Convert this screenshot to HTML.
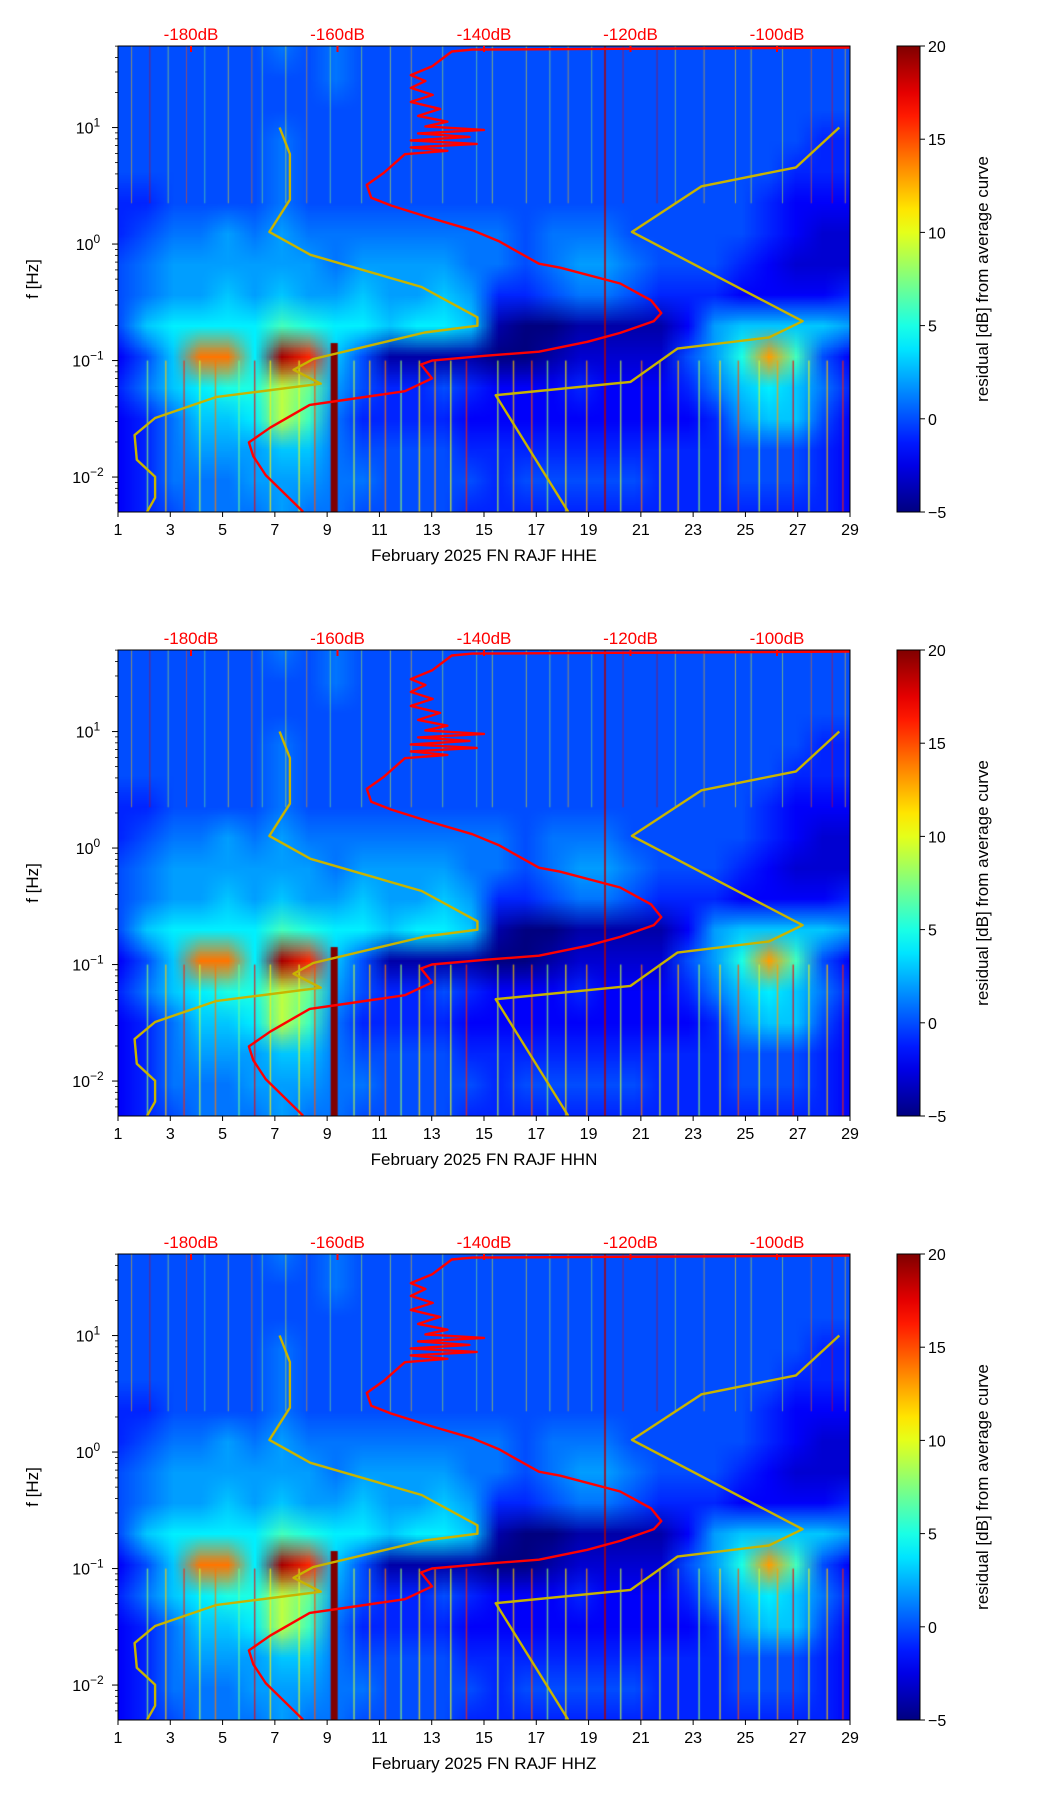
<!DOCTYPE html>
<html><head><meta charset="utf-8">
<style>
html,body{margin:0;padding:0;background:#fff;}
body{width:1052px;height:1806px;position:relative;overflow:hidden;font-family:"Liberation Sans","DejaVu Sans",sans-serif;}
canvas{position:absolute;}
svg{position:absolute;left:0;top:0;}
</style></head>
<body>
<div id="root"></div>
<script>
// ---- data ----
const dayTicks=[1,3,5,7,9,11,13,15,17,19,21,23,25,27,29];
const dbTicks=[-180,-160,-140,-120,-100];
const cbTicks=[20,15,10,5,0,-5];
const channels=["HHE","HHN","HHZ"];
const rowLogF=[1.57,1.32,1.07,0.82,0.57,0.32,0.07,-0.18,-0.43,-0.68,-0.93,-1.18,-1.43,-1.68,-1.93,-2.18];
const heat=[
[0,0,0,0,0,0,1,0,1,0,0,0,0,0,0,0,0,0,0,0,0,0,0,0,0,0,0,0],
[0,0,0,0,0,0,0,0,1,0,0,0,0,0,0,0,0,0,0,0,0,0,0,0,0,0,0,0],
[0,0,0,0,0,0,0,0,0,0,0,0,0,0,0,0,0,0,0,0,0,0,0,0,0,0,0,0],
[0,0,0,0,0,0,1,0,0,0,0,0,0,0,0,0,0,0,0,0,0,0,0,0,0,0,-1,-1],
[0,0,0,0,0,0,1,0,0,0,0,0,0,0,0,0,0,0,0,0,0,0,0,0,0,-1,-1,-1],
[-1,-1,0,0,0,0,1,0,0,0,0,0,0,0,0,0,0,0,0,0,0,0,0,0,-1,-2,-2,-2],
[-1,0,1,1,2,1,2,1,1,1,1,1,1,1,1,0,1,1,1,0,0,0,0,0,-1,-2,-3,-3],
[0,1,2,2,2,2,2,2,1,2,2,2,2,1,1,0,1,2,2,1,0,0,0,-1,-2,-3,-3,-3],
[0,1,2,2,3,2,3,2,2,3,2,2,3,2,-1,-1,0,1,1,0,-1,-1,-1,-2,-2,-2,-2,-1],
[0,3,4,4,4,4,6,5,4,4,3,4,4,3,-4,-5,-5,-4,-4,-4,-4,-2,2,3,3,3,3,2],
[-2,0,3,14,14,4,19,16,3,0,-4,-4,-4,-4,-5,-5,-4,-3,-3,-3,-3,0,2,5,13,6,0,-2],
[-1,1,3,4,5,5,9,7,2,0,-1,-1,0,-1,-2,-2,-2,-1,-2,-2,-2,-1,1,3,4,3,1,-1],
[-2,-1,1,3,3,4,9,6,1,-1,-1,-1,-1,-2,-2,-2,-2,-2,-2,-2,-2,-2,-1,2,3,3,0,-2],
[-2,-1,1,2,2,2,3,3,1,0,0,0,0,-1,-1,-1,-1,-1,-1,-1,-1,-1,-1,0,0,0,-1,-2],
[-2,-1,1,1,1,2,2,2,1,1,0,0,0,0,-1,0,0,0,0,0,-1,-1,-1,0,0,0,-1,-2],
[-2,-1,0,1,1,1,2,1,1,0,0,0,0,-1,-1,-1,-1,-1,-1,-1,-1,-1,-1,-1,-1,-1,-1,-2]];
const topStripeDay=[1.5,2.2,2.9,3.6,4.3,5.2,6.1,6.5,7.4,8.2,9.1,10.3,11.4,12.2,13.4,14.7,15.3,16.6,17.5,18.2,19.1,20.3,21.6,22.3,23.4,24.6,25.2,26.4,27.5,28.3,28.8];
const topStripeVal=[12,18,9,15,7,11,14,8,10,13,8,9,10,12,9,8,10,11,9,12,8,17,18,9,12,11,10,9,14,17,12];
const lowStripeDay=[2.1,2.8,3.5,4.1,4.7,5.6,6.2,6.8,7.9,8.5,10.0,10.6,11.2,11.8,12.5,13.1,13.7,14.3,15.5,16.1,16.8,17.4,18.1,18.9,20.2,21.0,21.7,22.4,23.2,24.0,24.7,25.5,26.2,26.8,27.4,28.1,28.7];
const lowStripeVal=[8,12,16,9,14,7,17,11,10,15,9,12,14,8,11,13,10,16,9,12,15,8,11,13,9,14,10,12,8,11,15,9,13,17,10,12,16];
const redDb=[-164.7,-169.8,-171.5,-172.1,-169.2,-163.8,-159.1,-150.8,-147.1,-148.6,-147.1,-139.7,-132.5,-125.9,-121.4,-116.8,-115.8,-117.2,-121.4,-129.6,-132.5,-138.0,-141.6,-147.1,-152.7,-155.4,-156.0,-153.7,-150.8,-145,-150,-141,-150,-142,-149,-140,-148,-145,-149,-146,-150,-147,-150,-148,-150,-147.1,-144.4,-141.6,-90.0];
const redLogF=[-2.297,-1.983,-1.822,-1.703,-1.576,-1.381,-1.339,-1.263,-1.153,-1.034,-1.0,-0.958,-0.924,-0.839,-0.763,-0.661,-0.593,-0.483,-0.339,-0.203,-0.169,0.025,0.119,0.220,0.331,0.398,0.508,0.610,0.771,0.80,0.83,0.86,0.89,0.92,0.95,0.98,1.01,1.05,1.10,1.16,1.22,1.28,1.34,1.40,1.45,1.525,1.653,1.669,1.686];
const yelLDb=[-167.9,-166.5,-166.5,-169.3,-163.7,-148.5,-140.9,-140.9,-148.1,-163.3,-166.0,-162.3,-176.6,-184.9,-187.7,-187.4,-184.9,-184.9,-186.0];
const yelLLogF=[1.0,0.773,0.381,0.104,-0.092,-0.369,-0.629,-0.701,-0.759,-0.987,-1.079,-1.199,-1.314,-1.493,-1.640,-1.852,-1.998,-2.177,-2.298];
const yelRDb=[-91.5,-97.4,-110.3,-119.8,-96.5,-101.1,-113.6,-120.0,-138.4,-128.5];
const yelRLogF=[1.0,0.658,0.496,0.104,-0.662,-0.802,-0.897,-1.183,-1.297,-2.298];
const redVlineDay=19.6, darkLineDay=9.25;

const L=118,R=850,PH=466,tops=[46,650,1254];
const CBX=897,CBW=23;
function xDay(d){return L+(d-1)*(R-L)/28;}
function xDb(db){return 191+(db+180)*7.325;}
function yF(top,lf){return top+(1.7-lf)*PH/4;}
function jet(v){let t=Math.max(0,Math.min(1,(v+5)/25));
 const c=x=>Math.max(0,Math.min(1,x));
 return [c(1.5-Math.abs(4*t-3)),c(1.5-Math.abs(4*t-2)),c(1.5-Math.abs(4*t-1))].map(x=>Math.round(x*255));}
function rgb(v){const c=jet(v);return `rgb(${c[0]},${c[1]},${c[2]})`;}
const root=document.getElementById('root');
const NS="http://www.w3.org/2000/svg";
const svg=document.createElementNS(NS,'svg');
svg.setAttribute('width',1052);svg.setAttribute('height',1806);
function el(tag,attrs,parent){const e=document.createElementNS(NS,tag);for(const k in attrs)e.setAttribute(k,attrs[k]);(parent||svg).appendChild(e);return e;}
function txt(s,attrs,parent){const e=el('text',attrs,parent);e.textContent=s;return e;}

tops.forEach((top,pi)=>{
 const cv=document.createElement('canvas');
 
 
 cv.width=R-L;cv.height=PH;cv.style.left=L+'px';cv.style.top=top+'px';
 root.appendChild(cv);
 const ctx=cv.getContext('2d');
 const sm=document.createElement('canvas');sm.width=28;sm.height=rowLogF.length;
 const sc=sm.getContext('2d');const im=sc.createImageData(28,rowLogF.length);
 heat.forEach((row,r)=>row.forEach((v,c)=>{const k=(r*28+c)*4,col=jet(v);im.data[k]=col[0];im.data[k+1]=col[1];im.data[k+2]=col[2];im.data[k+3]=255;}));
 sc.putImageData(im,0,0);
 ctx.imageSmoothingEnabled=true;
 ctx.drawImage(sm,0,0,28,rowLogF.length,-13,-14,(R-L)+26,PH+28);
 topStripeDay.forEach((d,i)=>{ctx.fillStyle=rgb(topStripeVal[i]);ctx.globalAlpha=0.55;ctx.fillRect(xDay(d)-L,0,1,yF(0,0.35));});
 lowStripeDay.forEach((d,i)=>{ctx.fillStyle=rgb(lowStripeVal[i]);ctx.globalAlpha=0.7;ctx.fillRect(xDay(d)-L,yF(0,-1.0),1.5,PH);});
 ctx.globalAlpha=1;
 ctx.fillStyle='#800000';ctx.fillRect(xDay(darkLineDay)-L-3,yF(0,-0.85),7,PH);
 ctx.fillStyle='#b00000';ctx.fillRect(xDay(redVlineDay)-L,0,1.5,PH);

 const g=el('g',{});
 const line=(xs,ys,col,w,name)=>{const p=xs.map((x,i)=>`${x.toFixed(1)},${ys[i].toFixed(1)}`).join(' ');
  const e=el('polyline',{points:p,fill:'none',stroke:col,'stroke-width':w,'stroke-linejoin':'round'},g);
  };
 line(yelLDb.map(xDb),yelLLogF.map(f=>yF(top,f)),'#c8b400',2.4,'yellow-model-curve-low');
 line(yelRDb.map(xDb),yelRLogF.map(f=>yF(top,f)),'#c8b400',2.4,'yellow-model-curve-high');
 line(redDb.map(xDb),redLogF.map(f=>yF(top,f)),'#ff0000',2.4,'red-average-curve');
 el('rect',{x:L,y:top,width:R-L,height:PH,fill:'none',stroke:'#000','stroke-width':1,},g);
 dayTicks.forEach(d=>{const x=xDay(d);el('line',{x1:x,x2:x,y1:top+PH,y2:top+PH+5,stroke:'#000'},g);
  txt(String(d),{x:x,y:top+PH+23,'font-size':16,'text-anchor':'middle',fill:'#000',},g);});
 txt('February 2025 FN RAJF  '+channels[pi],{x:(L+R)/2,y:top+PH+49,'font-size':17,'text-anchor':'middle','xml:space':'preserve',fill:'#000',},g);
 dbTicks.forEach(db=>{const x=xDb(db);el('line',{x1:x,x2:x,y1:top,y2:top+6,stroke:'#ff0000','stroke-width':2},g);
  txt(db+'dB',{x:x,y:top-6,'font-size':17,'text-anchor':'middle',fill:'#ff0000',},g);});
 for(let e=-3;e<=1;e++){for(let m=1;m<10;m++){const lf=e+Math.log10(m);if(lf<-2.3||lf>1.7)continue;const y=yF(top,lf);
   el('line',{x1:L-(m===1?6:3),x2:L,y1:y,y2:y,stroke:'#000','stroke-width':m===1?1:0.8},g);}
  if(e>=-2){const y=yF(top,e);const t=txt('10',{x:L-30,y:y+6,'font-size':16,'text-anchor':'middle',fill:'#000',},g);
   const ts=document.createElementNS(NS,'tspan');ts.setAttribute('dy','-7');ts.setAttribute('font-size','12');ts.textContent=(e<0?'\u2212':'')+Math.abs(e);t.appendChild(ts);}}
 txt('f [Hz]',{x:0,y:0,transform:`translate(38,${top+PH/2}) rotate(-90)`,'font-size':17,'text-anchor':'middle',fill:'#000',},g);
 const gid='cbg'+pi;const lg=el('linearGradient',{id:gid,x1:0,y1:1,x2:0,y2:0},el('defs',{},g));
 for(let i=0;i<=20;i++){const v=-5+25*i/20;el('stop',{offset:(i/20),'stop-color':rgb(v)},lg);}
 el('rect',{x:CBX,y:top,width:CBW,height:PH,fill:`url(#${gid})`,stroke:'#000','stroke-width':1,},g);
 cbTicks.forEach(v=>{const y=top+PH-(v+5)/25*PH;el('line',{x1:CBX+CBW,x2:CBX+CBW+5,y1:y,y2:y,stroke:'#000'},g);
  txt(v<0?'\u2212'+Math.abs(v):String(v),{x:CBX+CBW+8,y:y+6,'font-size':16,fill:'#000',},g);});
 txt('residual [dB] from average curve',{x:0,y:0,transform:`translate(988,${top+PH/2}) rotate(-90)`,'font-size':17,'text-anchor':'middle',fill:'#000',},g);
});
root.appendChild(svg);
</script>
</body></html>
